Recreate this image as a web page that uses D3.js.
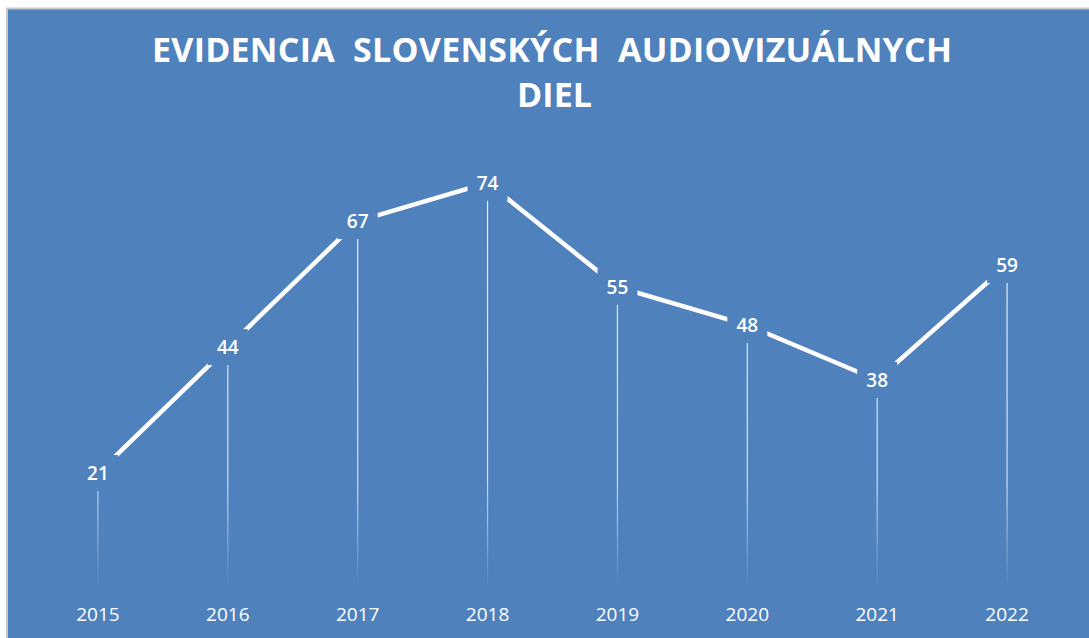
<!DOCTYPE html>
<html>
<head>
<meta charset="utf-8">
<script src="https://cdn.jsdelivr.net/npm/d3@7"></script>
<style>
  html, body { margin: 0; padding: 0; background: #ffffff; }
  svg { display: block; }
</style>
</head>
<body>
<svg id="chart" width="1089" height="638"></svg>
<script>
const categories = ["2015", "2016", "2017", "2018", "2019", "2020", "2021", "2022"];
const values = [21, 44, 67, 74, 55, 48, 38, 59];
const titleLines = ["EVIDENCIA  SLOVENSKÝCH  AUDIOVIZUÁLNYCH", "DIEL"];

const W = 1089, H = 638;
const bg = "#4f81bd";
const svg = d3.select("#chart");

// background with light gray frame
svg.append("rect").attr("x", 0).attr("y", 0).attr("width", W).attr("height", H).attr("fill", "#ffffff");
svg.append("rect")
  .attr("x", 7).attr("y", 8.5).attr("width", W + 20).attr("height", H + 20)
  .attr("fill", bg).attr("stroke", "#c8c8c8").attr("stroke-width", 2);

const x = d3.scaleBand().domain(categories).range([33, 1072]).paddingInner(0).paddingOuter(0);
const y = d3.scaleLinear().domain([0, 80]).range([588, 150]);
const cx = d => x(d) + x.bandwidth() / 2;

// gradient for drop lines
const defs = svg.append("defs");
const grad = defs.append("linearGradient").attr("id", "dropGrad")
  .attr("gradientUnits", "userSpaceOnUse")
  .attr("x1", 0).attr("x2", 0).attr("y1", 150).attr("y2", 588);
grad.append("stop").attr("offset", "0").attr("stop-color", "#ffffff").attr("stop-opacity", 0.9);
grad.append("stop").attr("offset", "0.75").attr("stop-color", "#ffffff").attr("stop-opacity", 0.75);
grad.append("stop").attr("offset", "1").attr("stop-color", "#ffffff").attr("stop-opacity", 0);

const data = categories.map((c, i) => ({ c, v: values[i] }));

// title
const title = svg.append("g");
title.append("text")
  .attr("x", 552).attr("y", 62)
  .attr("text-anchor", "middle")
  .attr("font-family", "'Open Sans', sans-serif")
  .attr("font-weight", 700).attr("font-size", 34)
  .attr("fill", "#ffffff")
  .attr("textLength", 800).attr("lengthAdjust", "spacing")
  .style("white-space", "pre")
  .text(titleLines[0]);
title.append("text")
  .attr("x", 554.5).attr("y", 107)
  .attr("text-anchor", "middle")
  .attr("font-family", "'Open Sans', sans-serif")
  .attr("font-weight", 700).attr("font-size", 34)
  .attr("fill", "#ffffff")
  .attr("textLength", 75).attr("lengthAdjust", "spacing")
  .text(titleLines[1]);

// drop lines
svg.append("g").selectAll("line").data(data).join("line")
  .attr("x1", d => cx(d.c)).attr("x2", d => cx(d.c))
  .attr("y1", d => y(d.v)).attr("y2", y(0))
  .attr("stroke", "url(#dropGrad)").attr("stroke-width", 1.2);

// line
const lineGen = d3.line().x(d => cx(d.c)).y(d => y(d.v));
svg.append("path").datum(data)
  .attr("d", lineGen)
  .attr("fill", "none").attr("stroke", "#ffffff").attr("stroke-width", 4.5)
  .attr("stroke-linejoin", "miter");

// label backgrounds
svg.append("g").selectAll("rect").data(data).join("rect")
  .attr("x", d => cx(d.c) - 20).attr("y", d => y(d.v) - 18)
  .attr("width", 40).attr("height", 36)
  .attr("fill", bg);

// data labels
svg.append("g").selectAll("text").data(data).join("text")
  .attr("x", d => cx(d.c)).attr("y", d => y(d.v) + 7)
  .attr("text-anchor", "middle")
  .attr("font-family", "'Open Sans', sans-serif")
  .attr("font-size", 19).attr("font-weight", 600)
  .attr("fill", "#ffffff")
  .text(d => d.v);

// x axis labels
const xAxis = d3.axisBottom(x).tickSize(0).tickPadding(0);
const gx = svg.append("g").attr("transform", "translate(0,607)").call(xAxis);
gx.select(".domain").remove();
gx.selectAll("text")
  .attr("font-family", "'Open Sans', sans-serif")
  .attr("font-size", 19)
  .attr("fill", "#ffffff")
  .attr("dy", "0.71em");
</script>
</body>
</html>
